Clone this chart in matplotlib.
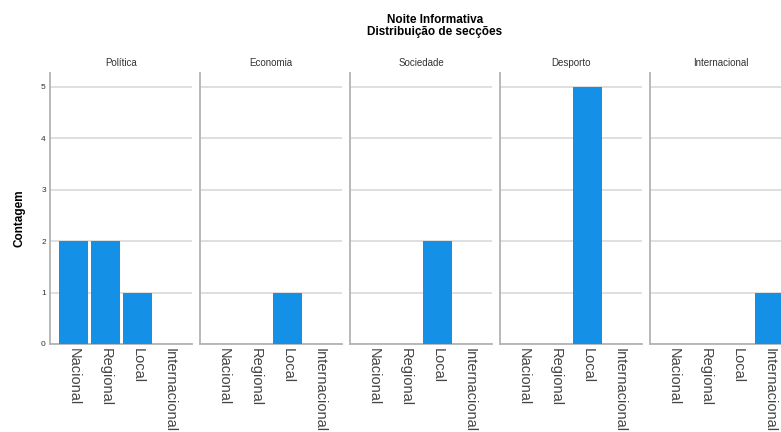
import matplotlib.pyplot as plt

plt.rcParams['font.family'] = ['Liberation Sans', 'DejaVu Sans']

seccoes = ['Política', 'Economia', 'Sociedade', 'Desporto', 'Internacional']
ambitos = ['Nacional', 'Regional', 'Local', 'Internacional']
politica = [2, 2, 1, 0]
economia = [0, 0, 1, 0]
sociedade = [0, 0, 2, 0]
desporto = [0, 0, 5, 0]
internacional = [0, 0, 0, 1]
contagens = [politica, economia, sociedade, desporto, internacional]

W, H = 781, 432
fig = plt.figure(figsize=(W / 100, H / 100), dpi=100)

bar_color = '#1490e6'
grid_color = '#d9d9d9'
spine_color = '#b3b3b3'

for i, (nome, vals) in enumerate(zip(seccoes, contagens)):
    left = 50 + i * 150
    ax = fig.add_axes([left / W, 88 / H, 142 / W, 271 / H])
    x = range(len(ambitos))
    ax.bar(x, vals, width=0.9, color=bar_color, zorder=3)
    ax.set_xlim(-0.73, 3.71)
    ax.set_ylim(0, 5.27)
    ax.set_yticks(range(6))
    ax.yaxis.grid(True, color=grid_color, linewidth=1.2, zorder=0)
    ax.set_xticks(list(x))
    ax.set_xticklabels(ambitos, rotation=270, fontsize=10.5, color='#444444')
    ax.tick_params(axis='both', length=0, pad=3)
    ax.tick_params(axis='y', labelsize=6, colors='#333333')
    if i > 0:
        ax.set_yticklabels([])
    for s in ['top', 'right']:
        ax.spines[s].set_visible(False)
    for s in ['left', 'bottom']:
        ax.spines[s].set_color(spine_color)
        ax.spines[s].set_linewidth(1.3)
    ax.set_title(nome, fontsize=7, color='#333333', pad=5)

fig.text(435 / W, 1 - 26 / H, 'Noite Informativa\nDistribuição de secções',
         ha='center', va='center', fontsize=8.5, fontweight='bold', linespacing=1.0)
fig.text(19 / W, 1 - 218 / H, 'Contagem', rotation=90, ha='center', va='center',
         fontsize=8.5, fontweight='bold')

fig.savefig('out.png', dpi=100)
